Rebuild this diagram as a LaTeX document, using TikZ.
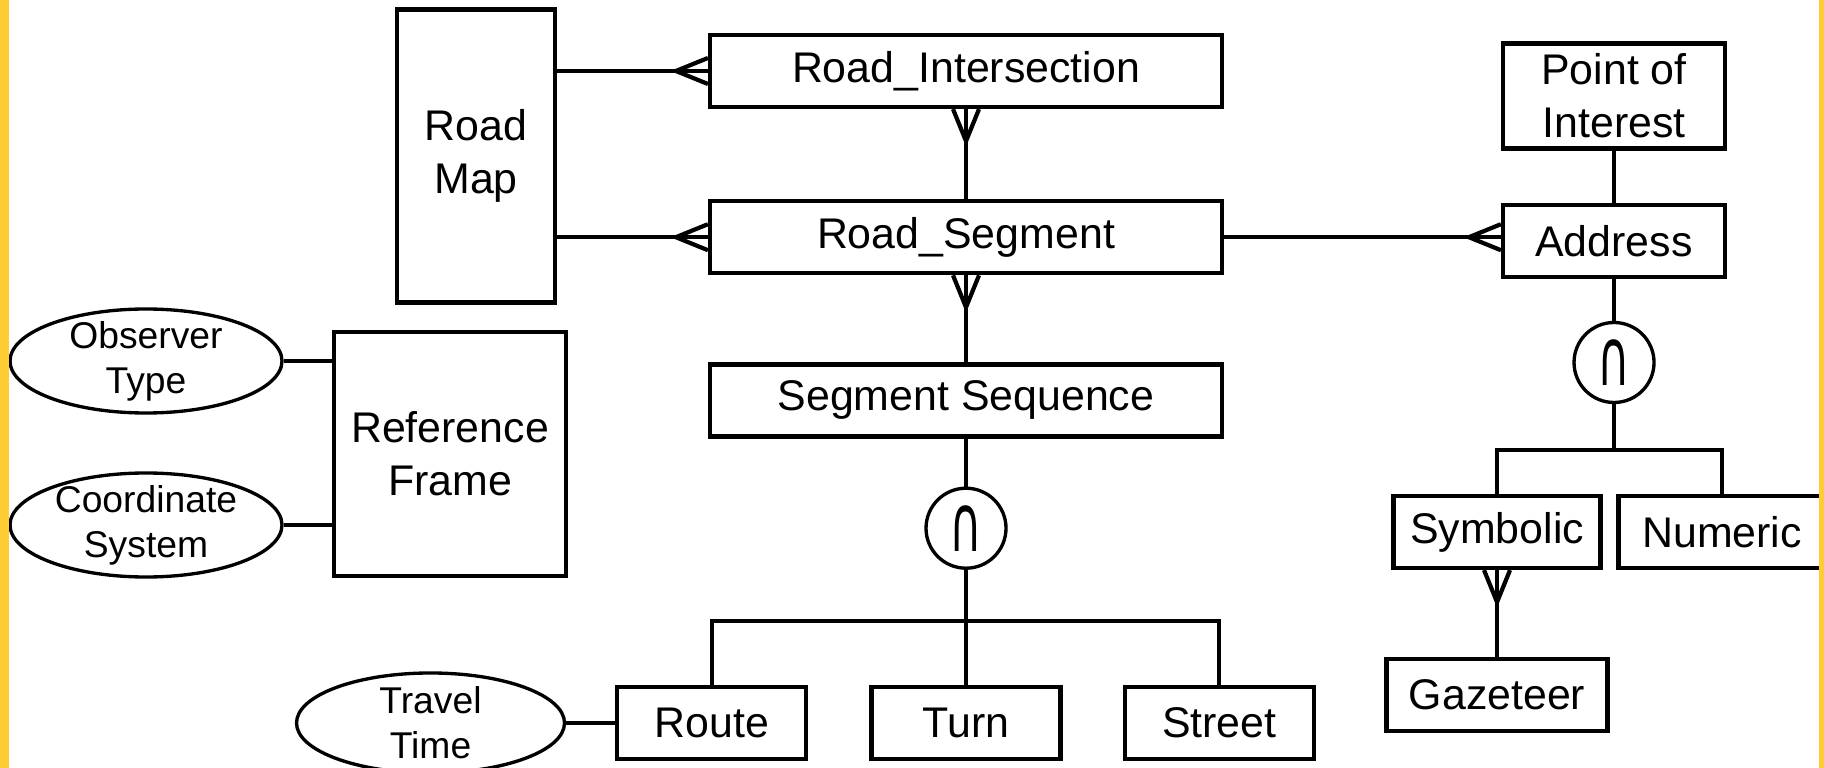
\documentclass[tikz,border=0pt]{standalone}
\usepackage{fontspec}
\setmainfont{Liberation Sans}
\newfontfamily\symfont{DejaVu Sans}
\usetikzlibrary{positioning,shapes.geometric,decorations.markings}

\definecolor{frameyellow}{RGB}{255,204,51}

\tikzset{
  entity/.style={draw, rectangle, line width=1.2pt, align=center, inner sep=0pt,
    minimum height=7.2mm, font=\fontsize{12.2pt}{15pt}\selectfont},
  attrib/.style={draw, ellipse, line width=0.95pt, align=center, inner xsep=0pt, inner ysep=-8pt,
    minimum width=27.2mm, minimum height=10.4mm, font=\fontsize{10.6pt}{12.8pt}\selectfont},
  isect/.style={draw, circle, line width=0.95pt, inner sep=0pt, minimum size=8mm,
    font=\symfont\fontsize{15pt}{15pt}\selectfont},
  link/.style={line width=1.2pt},
  crowfoot/.style={link, postaction={decorate}, decoration={markings,
    mark=at position 1 with {\draw[line width=1.2pt] (0,1.3mm) -- (-3.2mm,0) -- (0,-1.3mm);}}}
}

\begin{document}
\begin{tikzpicture}[x=0.1mm, y=-0.1mm]
  \useasboundingbox (0,0) rectangle (1824,768);

  % road network
  \node[entity, minimum width=15.8mm, minimum height=29.3mm] (roadmap) at (476,156) {Road\\Map};
  \node[entity, minimum width=51.2mm] (inter) at (966,71) {Road\_Intersection};
  \node[entity, minimum width=51.2mm, below=9mm of inter] (segment) {Road\_Segment};
  \node[entity, minimum width=51.2mm, below=8.7mm of segment] (seqn) {Segment Sequence};
  \node[isect, below=4.8mm of seqn] (cap1) {\scalebox{0.85}[1.5]{∩}};
  \node[entity, minimum width=18.9mm, below=11.5mm of cap1] (turn) {Turn};
  \node[entity, minimum width=18.9mm, left=6.1mm of turn] (route) {Route};
  \node[entity, minimum width=18.9mm, right=6mm of turn] (street) {Street};
  \coordinate (fork1) at (966,621);

  % reference frame
  \node[entity, minimum width=23.2mm, minimum height=24.4mm] (reff) at (450,454) {Reference\\Frame};
  \node[attrib] (obs) at (146,361) {Observer\\Type};
  \node[attrib] (coord) at (146,525) {Coordinate\\System};
  \node[attrib, minimum width=26.8mm, minimum height=10mm, left=4.9mm of route] (travel) {Travel\\Time};

  % addresses
  \node[entity, minimum width=22.2mm, minimum height=10.5mm] (poi) at (1614,96) {Point of\\Interest};
  \node[entity, minimum width=22.2mm, below=5.2mm of poi] (addr) {Address};
  \node[isect, below=4.2mm of addr] (cap2) {\scalebox{0.85}[1.5]{∩}};
  \coordinate[below=4.6mm of cap2] (fork2);
  \node[entity, minimum width=20.7mm] (symb) at (1497,532) {Symbolic};
  \node[entity, minimum width=20.7mm] (numeric) at (1722,532) {Numeric};
  \node[entity, minimum width=22.1mm, below=8.7mm of symb] (gaz) {Gazeteer};

  % one-to-many links
  \draw[crowfoot] (roadmap.east |- inter) -- (inter.west);
  \draw[crowfoot] (roadmap.east |- segment) -- (segment.west);
  \draw[crowfoot] (segment) -- (inter);
  \draw[crowfoot] (seqn) -- (segment);
  \draw[crowfoot] (segment.east) -- (segment.east -| addr.west);
  \draw[crowfoot] (gaz) -- (symb);

  % plain links
  \draw[link] (seqn) -- (cap1);
  \draw[link] (cap1) -- (turn);
  \draw[link] (route) |- (fork1) -| (street);
  \draw[link] (poi) -- (addr);
  \draw[link] (addr) -- (cap2);
  \draw[link] (cap2) -- (fork2);
  \draw[link] (symb) |- (fork2) -| (numeric);
  \draw[link] (obs) -- (obs -| reff.west);
  \draw[link] (coord) -- (coord -| reff.west);
  \draw[link] (travel) -- (travel -| route.west);

  % side strips
  \fill[frameyellow] (0,0) rectangle (9,768);
  \fill[frameyellow] (1819,0) rectangle (1824,768);
\end{tikzpicture}
\end{document}
